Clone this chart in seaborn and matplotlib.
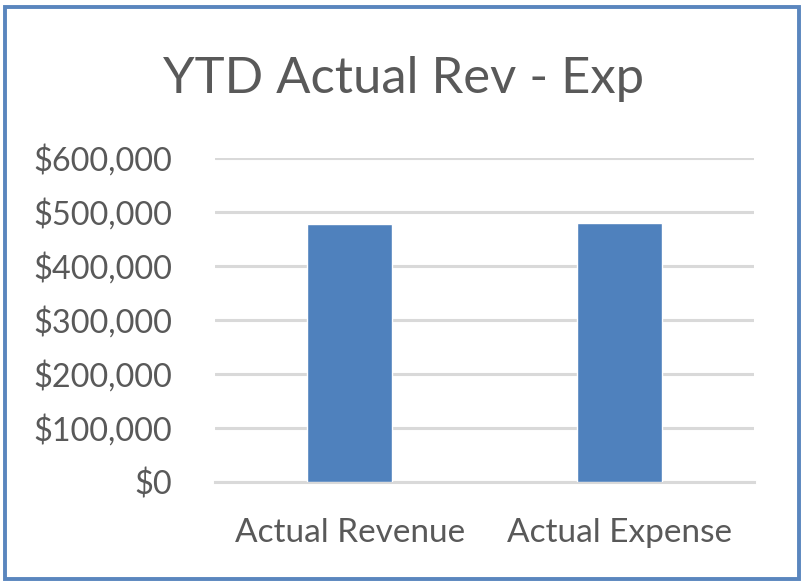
import matplotlib
matplotlib.use("Agg")
import matplotlib.pyplot as plt
import matplotlib.patches as mpatches
from matplotlib.ticker import FuncFormatter, MultipleLocator
import seaborn as sns
import pandas as pd

categories = ["Actual Revenue", "Actual Expense"]
values = [478500, 480300]
title = "YTD Actual Rev - Exp"

sns.set_theme(style="white")
plt.rcParams['font.family'] = ['Lato', 'DejaVu Sans']

W, H = 808, 583
fig = plt.figure(figsize=(W / 100, H / 100), dpi=100)
fig.patch.set_facecolor("white")

ax = fig.add_axes([215 / W, 1 - 482 / H, (754 - 215) / W, (482 - 158) / H])
df = pd.DataFrame({"cat": categories, "val": values})
sns.barplot(data=df, x="cat", y="val", color="#4F81BD", saturation=1,
            width=0.315, ax=ax, zorder=3)

text_col = "#595959"
grid_col = "#D9D9D9"
ax.set_ylim(0, 600000)
ax.set_xlim(-0.5, 1.5)
ax.yaxis.set_major_locator(MultipleLocator(100000))
ax.yaxis.set_major_formatter(FuncFormatter(lambda v, p: f"${v:,.0f}"))
ax.grid(axis="y", color=grid_col, linewidth=2.2, zorder=0)
ax.set_axisbelow(True)
for s in ["top", "right", "left"]:
    ax.spines[s].set_visible(False)
ax.spines["bottom"].set_color(grid_col)
ax.spines["bottom"].set_linewidth(2.2)
ax.spines["bottom"].set_zorder(1)
ax.set_xlabel("")
ax.set_ylabel("")
ax.tick_params(axis="y", length=0, pad=31, labelsize=23.3, labelcolor=text_col)
ax.tick_params(axis="x", length=0, pad=26, labelsize=24, labelcolor=text_col)

fig.text(404 / W, 1 - 93 / H, title, ha="center", va="baseline",
         fontsize=36.5, color=text_col)

# chart frame
frame = mpatches.Rectangle((5 / W, 1 - 579 / H), (799 - 5) / W, (579 - 7) / H,
                           transform=fig.transFigure, fill=False,
                           edgecolor="#5A86BE", linewidth=2.8, zorder=10)
fig.patches.append(frame)

fig.savefig("out.png", dpi=100, facecolor="white")
